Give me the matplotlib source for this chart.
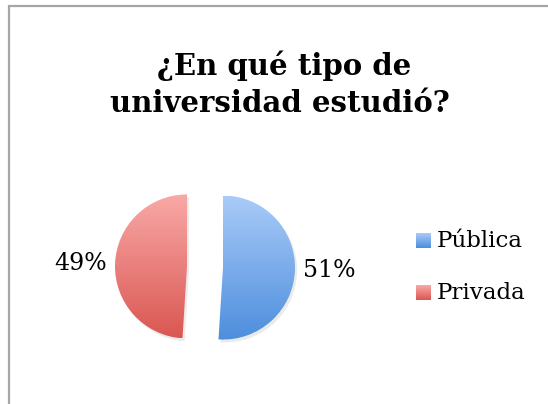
import matplotlib.pyplot as plt
import numpy as np
from matplotlib.colors import LinearSegmentedColormap
from matplotlib.patches import Rectangle, Wedge

# datos
categorias = ["Pública", "Privada"]
porcentajes = [51, 49]
etiquetas = ["51%", "49%"]
titulo = ["¿En qué tipo de", "universidad estudió?"]

# degradados (arriba, abajo)
grad_azul = ["#a9cbf8", "#4d8edd"]
grad_rojo = ["#f9a9a7", "#da5752"]
gradientes = [grad_azul, grad_rojo]

W, H = 548, 404
fig = plt.figure(figsize=(W / 100, H / 100), dpi=100)
fig.patch.set_facecolor("white")
fuente = "DejaVu Serif"


def fx(px):
    return px / W


def fy(py):
    return 1 - py / H


# marco del grafico
fig.add_artist(Rectangle((fx(9), -0.1), 2, fy(6) + 0.1, transform=fig.transFigure,
                         fill=False, edgecolor="#a6a6a6", lw=1.6))

# titulo
fig.text(fx(284), fy(75), titulo[0], ha="center", va="baseline",
         fontsize=21, fontweight="bold", family=fuente)
fig.text(fx(280), fy(112), titulo[1], ha="center", va="baseline",
         fontsize=21, fontweight="bold", family=fuente)

# pastel
r_px = 72
lim = 100 / r_px
ax = fig.add_axes([fx(105), fy(367), 200 / W, 200 / H])
wedges, _ = ax.pie(porcentajes, startangle=90, counterclock=False,
                   explode=[0.25, 0.25], radius=1)
ax.set_aspect("equal")
ax.axis("off")

for w, g, et in zip(wedges, gradientes, etiquetas):
    cmap = LinearSegmentedColormap.from_list("g", [g[1], g[0]])
    cx, cy = w.center
    # sombra suave
    ax.add_patch(Wedge((cx + 0.03, cy - 0.04), 1, w.theta1, w.theta2,
                       facecolor="black", alpha=0.08, lw=0))
    w.set_facecolor("none")
    w.set_edgecolor("none")
    img = ax.imshow(np.linspace(0, 1, 256).reshape(-1, 1), cmap=cmap, origin="lower",
                    extent=[cx - 1, cx + 1, cy - 1, cy + 1], aspect="auto", zorder=2)
    img.set_clip_path(w)
    tm = np.deg2rad((w.theta1 + w.theta2) / 2)
    ax.text(cx + 1.48 * np.cos(tm), cy + 1.48 * np.sin(tm), et, ha="center", va="center",
            fontsize=17, family=fuente, zorder=3)

ax.set_xlim(-lim, lim)
ax.set_ylim(-lim, lim)

# leyenda
leg_y = [241, 293]
for cat, g, yy in zip(categorias, gradientes, leg_y):
    cmap = LinearSegmentedColormap.from_list("g", [g[1], g[0]])
    lax = fig.add_axes([fx(416), fy(yy + 7), 15 / W, 15 / H])
    lax.imshow(np.linspace(0, 1, 64).reshape(-1, 1), cmap=cmap, origin="lower",
               aspect="auto")
    lax.axis("off")
    fig.text(fx(437), fy(yy), cat, ha="left", va="center", fontsize=16.5, family=fuente)

fig.savefig("out.png", dpi=100)
